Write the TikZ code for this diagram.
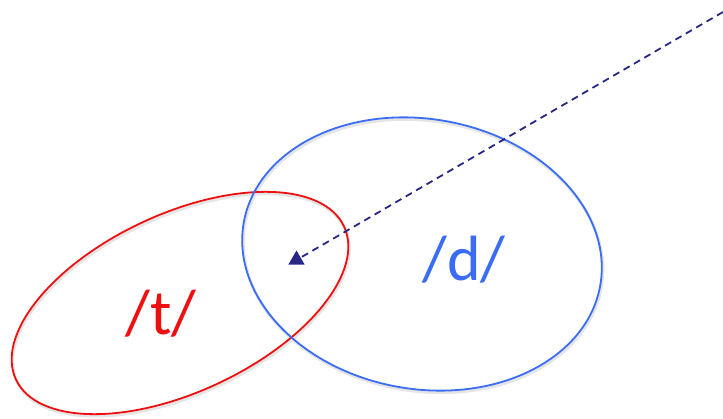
\documentclass[tikz,border=0pt]{standalone}
\usepackage{fontspec}
\newfontfamily\labelfont{Carlito}
\usetikzlibrary{shapes.geometric}
\definecolor{tred}{RGB}{238,16,16}
\definecolor{dblue}{RGB}{58,108,245}
\definecolor{navy}{RGB}{40,40,132}
\begin{document}
\begin{tikzpicture}[x=1pt, y=1pt]
    \tikzset{region/.style={line width=1.8pt}}
    \tikzset{shade/.style={line width=3pt, black!10}}
    \tikzset{phon/.style={font=\labelfont\fontsize{64}{64}\selectfont, inner sep=0pt}}
    \tikzset{marker/.style={regular polygon, regular polygon sides=3, fill=navy, inner sep=0pt, minimum size=19pt}}
    \tikzset{pointer/.style={navy, line width=1.8pt, dash pattern=on 7pt off 5pt}}

    \useasboundingbox (0,0) rectangle (723,418);

    % ── SHADOWS ─────────────────────────────────────────
    \draw[shade, rotate around={25:(181,113)}] (181,113) ellipse [x radius=181pt, y radius=89pt];
    \draw[shade, rotate around={-10:(423,162)}] (423,162) ellipse [x radius=181pt, y radius=135pt];

    % ── /t/ ─────────────────────────────────────────────
    \draw[region, tred, rotate around={25:(180,115)}] (180,115) ellipse [x radius=181pt, y radius=89pt];
    \node[phon, text=tred] (t) at (161,104) {/t/};

    % ── /d/ ─────────────────────────────────────────────
    \draw[region, dblue, rotate around={-10:(422,164)}] (422,164) ellipse [x radius=181pt, y radius=135pt];
    \node[phon, text=dblue] (d) at (464,158) {/d/};

    % ── POINTER ─────────────────────────────────────────
    \node[marker] (tip) at (296.5,158) {};
    \coordinate (far) at (723,406);
    \draw[pointer] (far) -- (tip);

\end{tikzpicture}
\end{document}
